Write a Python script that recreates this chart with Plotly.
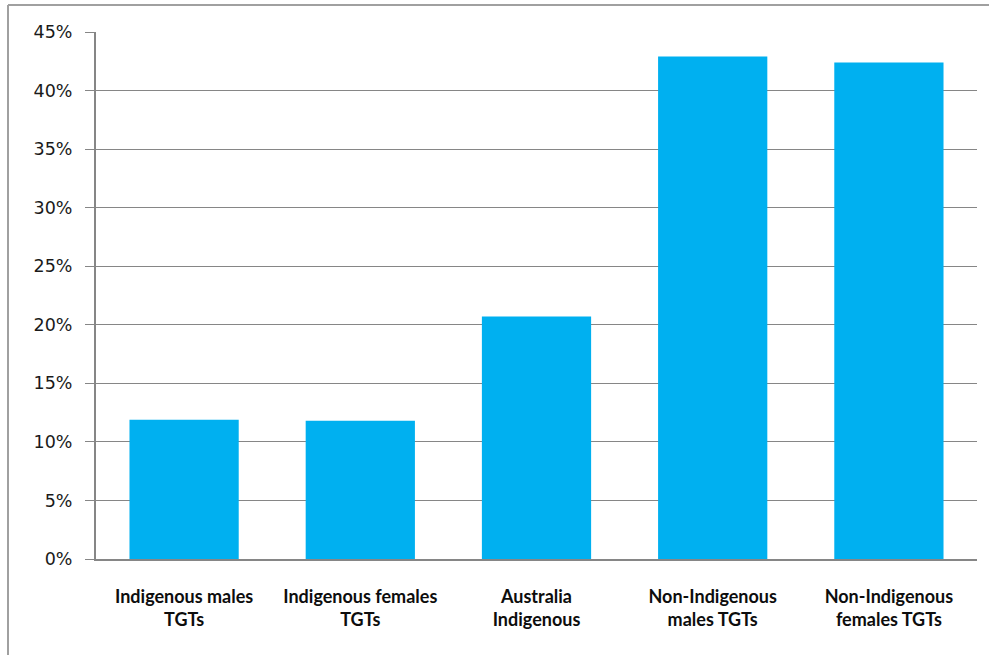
import plotly.graph_objects as go

# Share of each group (percent)
categories = [
    "Indigenous males<br>TGTs",
    "Indigenous females<br>TGTs",
    "Australia<br>Indigenous",
    "Non-Indigenous<br>males TGTs",
    "Non-Indigenous<br>females TGTs",
]
values = [11.9, 11.8, 20.7, 42.9, 42.4]
y_ticks = [0, 5, 10, 15, 20, 25, 30, 35, 40, 45]
y_tick_labels = [f"{t}%" for t in y_ticks]

W, H = 989, 655
ml, mr, mt, mb = 96, 12, 32, 96
pw, ph = W - ml - mr, H - mt - mb

fig = go.Figure(
    go.Bar(
        x=categories,
        y=values,
        marker=dict(color="#00B0F0", line=dict(width=0)),
        width=0.62,
        hoverinfo="x+y",
    )
)

grid = "#868686"
fig.update_layout(
    width=W,
    height=H,
    margin=dict(l=ml, r=mr, t=mt, b=mb),
    paper_bgcolor="white",
    plot_bgcolor="white",
    showlegend=False,
    font=dict(family="DejaVu Sans", color="#1a1a1a"),
    xaxis=dict(
        showgrid=False,
        showline=True,
        linecolor=grid,
        linewidth=2,
        ticks="",
        tickfont=dict(family="Lato", size=18, color="#0d0d0d", weight="bold"),
        ticklabelstandoff=20,
        fixedrange=True,
    ),
    yaxis=dict(
        range=[0, 45],
        tickvals=y_ticks,
        ticktext=y_tick_labels,
        showgrid=True,
        gridcolor=grid,
        gridwidth=1,
        showline=True,
        linecolor=grid,
        linewidth=2,
        ticks="outside",
        ticklen=9,
        tickcolor=grid,
        tickwidth=1,
        tickfont=dict(family="DejaVu Sans", size=17.5, color="#1a1a1a"),
        ticklabelstandoff=9,
        zeroline=False,
        fixedrange=True,
    ),
)

# Outer chart frame (left and top edges)
fx0 = (8 - ml) / pw
fy1 = (H - mb - 5) / ph
fig.add_shape(type="line", xref="paper", yref="paper",
              x0=fx0, x1=fx0, y0=-1, y1=fy1,
              line=dict(color="#a0a0a0", width=2))
fig.add_shape(type="line", xref="paper", yref="paper",
              x0=fx0, x1=1.2, y0=fy1, y1=fy1,
              line=dict(color="#a0a0a0", width=2))

fig.write_html("out.html")
